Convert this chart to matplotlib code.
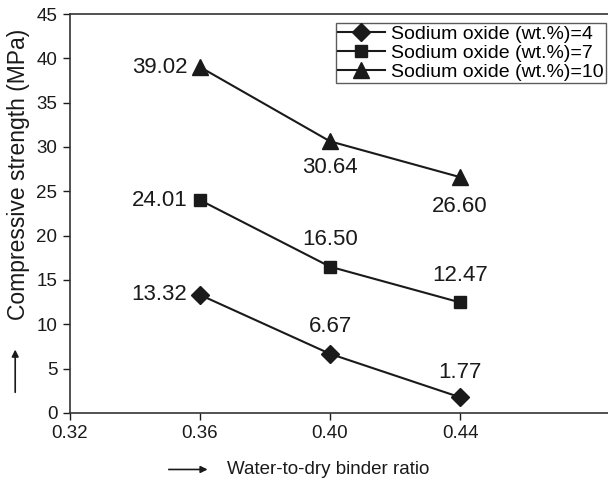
import numpy as np
from matplotlib import pyplot as plt

plt.rcParams["font.family"] = ["Liberation Sans", "DejaVu Sans"]

ratio = [0.36, 0.40, 0.44]
na4 = [13.32, 6.67, 1.77]
na7 = [24.01, 16.50, 12.47]
na10 = [39.02, 30.64, 26.60]
labels = ["Sodium oxide (wt.%)=4", "Sodium oxide (wt.%)=7", "Sodium oxide (wt.%)=10"]
xticks = [0.32, 0.36, 0.40, 0.44]

ink = "#1a1a1a"
fs = 13.5

fig = plt.figure(figsize=(6.08, 4.83), dpi=100)
ax = fig.add_axes([0.115, 0.145, 0.885, 0.826])

ax.plot(ratio, na4, "-D", color=ink, lw=1.5, ms=9, label=labels[0])
ax.plot(ratio, na7, "-s", color=ink, lw=1.5, ms=9, label=labels[1])
ax.plot(ratio, na10, "-^", color=ink, lw=1.5, ms=11, label=labels[2])

ax.set_xlim(0.32, 0.4855)
ax.set_ylim(0, 45)
ax.set_xticks(xticks)
ax.set_xticklabels(["%.2f" % t for t in xticks])
ax.set_yticks(np.arange(0, 46, 5))
ax.tick_params(direction="out", length=5, width=1, colors=ink, labelsize=fs, pad=4)
ax.spines["right"].set_visible(False)
for s in ["left", "top", "bottom"]:
    ax.spines[s].set_color("#333333")
    ax.spines[s].set_linewidth(1.2)

# value labels next to the markers, offsets in points
def lab(x, y, dx, dy, ha="center"):
    ax.annotate("%.2f" % y, (x, y), xytext=(dx, dy), textcoords="offset points",
                ha=ha, va="center", fontsize=16, color=ink)

lab(ratio[0], na4[0], -9, 0, "right")
lab(ratio[0], na7[0], -9, 0, "right")
lab(ratio[0], na10[0], -9, 0, "right")
lab(ratio[1], na4[1], 0, 19.5)
lab(ratio[1], na7[1], 0, 19.5)
lab(ratio[1], na10[1], 0, -19)
lab(ratio[2], na4[2], 0, 17.5)
lab(ratio[2], na7[2], 0, 19.5)
lab(ratio[2], na10[2], 0, -21)

leg = ax.legend(loc="upper right", bbox_to_anchor=(0.997, 0.978), fontsize=14,
                frameon=True, fancybox=False, borderpad=0.12, labelspacing=0.08,
                handlelength=2.4, handletextpad=0.35, borderaxespad=0)
leg.get_frame().set_edgecolor("#333333")
leg.get_frame().set_linewidth(1.0)

fig.text(0.03, 0.64, "Compressive strength (MPa)", rotation=90, ha="center",
         va="center", fontsize=16.5, color=ink)
ax.annotate("", xy=(0.025, 0.282), xytext=(0.025, 0.182), xycoords="figure fraction",
            arrowprops=dict(arrowstyle="-|>", color=ink, lw=1.2, mutation_scale=10))
fig.text(0.54, 0.028, "Water-to-dry binder ratio", ha="center", va="center",
         fontsize=fs, color=ink)
ax.annotate("", xy=(0.346, 0.028), xytext=(0.273, 0.028), xycoords="figure fraction",
            arrowprops=dict(arrowstyle="-|>", color=ink, lw=1.2, mutation_scale=10))

fig.savefig("out.png", dpi=100)
